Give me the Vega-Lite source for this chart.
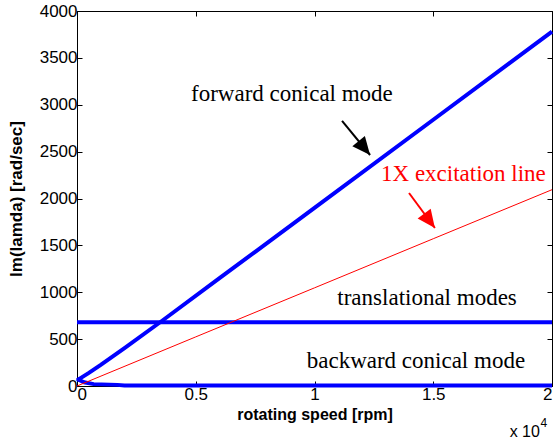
{
  "$schema": "https://vega.github.io/schema/vega-lite/v6.json",
  "width": 475,
  "height": 375,
  "autosize": "none",
  "padding": {"left": 77, "top": 11, "right": 2, "bottom": 56},
  "background": "white",
  "config": {
    "view": {"stroke": "black", "strokeWidth": 1},
    "axis": {
      "grid": false,
      "domainColor": "black",
      "tickColor": "black",
      "tickSize": -5,
      "labelColor": "black",
      "labelFont": "Liberation Sans",
      "labelFontSize": 17,
      "titleFont": "Liberation Sans",
      "titleFontSize": 16,
      "titleFontWeight": "bold",
      "titleColor": "black"
    }
  },
  "datasets": {
    "curves": [
      {"series": "forward", "speed": 0, "im": 60},
      {"series": "forward", "speed": 0.05, "im": 140},
      {"series": "forward", "speed": 0.1, "im": 225},
      {"series": "forward", "speed": 0.2, "im": 405},
      {"series": "forward", "speed": 0.35, "im": 680},
      {"series": "forward", "speed": 0.6, "im": 1150},
      {"series": "forward", "speed": 1.0, "im": 1900},
      {"series": "forward", "speed": 1.5, "im": 2840},
      {"series": "forward", "speed": 2.0, "im": 3780},
      {"series": "translational", "speed": 0, "im": 680},
      {"series": "translational", "speed": 2.0, "im": 680},
      {"series": "backward", "speed": 0, "im": 75},
      {"series": "backward", "speed": 0.03, "im": 40},
      {"series": "backward", "speed": 0.07, "im": 20},
      {"series": "backward", "speed": 0.17, "im": 12},
      {"series": "backward", "speed": 0.2, "im": 5},
      {"series": "backward", "speed": 2.0, "im": 5},
      {"series": "excitation", "speed": 0, "im": 0},
      {"series": "excitation", "speed": 0.5, "im": 524},
      {"series": "excitation", "speed": 1.0, "im": 1047},
      {"series": "excitation", "speed": 1.5, "im": 1571},
      {"series": "excitation", "speed": 2.0, "im": 2094}
    ],
    "labels": [
      {"label": "forward conical mode", "speed": 0.905, "im": 3040, "kind": "black"},
      {"label": "1X excitation line", "speed": 1.627, "im": 2187, "kind": "red"},
      {"label": "translational modes", "speed": 1.474, "im": 864, "kind": "black"},
      {"label": "backward conical mode", "speed": 1.427, "im": 192, "kind": "black"}
    ],
    "arrows": [
      {"arrow": "black", "speed": 1.116, "im": 2827},
      {"arrow": "black", "speed": 1.234, "im": 2464},
      {"arrow": "red", "speed": 1.398, "im": 2059},
      {"arrow": "red", "speed": 1.507, "im": 1685}
    ],
    "heads": [
      {"arrow": "black", "speed": 1.234, "im": 2464},
      {"arrow": "red", "speed": 1.507, "im": 1685}
    ],
    "exponent": [
      {"label": "x 10", "speed": 1.949, "im": -544, "part": "base"},
      {"label": "4", "speed": 1.952, "im": -440, "part": "power"}
    ]
  },
  "layer": [
    {
      "data": {"name": "curves"},
      "transform": [{"filter": "datum.series !== 'excitation'"}],
      "mark": {"type": "line", "color": "#0000ff", "strokeWidth": 4},
      "encoding": {
        "x": {"field": "speed", "type": "quantitative",
              "scale": {"domain": [0, 2], "nice": false, "zero": false},
              "axis": {"values": [0, 0.5, 1, 1.5, 2], "format": "~g", "title": "rotating speed [rpm]", "labelPadding": 5, "titlePadding": 4}},
        "y": {"field": "im", "type": "quantitative",
              "scale": {"domain": [0, 4000], "nice": false},
              "axis": {"values": [0, 500, 1000, 1500, 2000, 2500, 3000, 3500, 4000], "format": "d", "title": "Im(lamda) [rad/sec]", "titleFontSize": 17, "labelPadding": 5, "titlePadding": 14}},
        "detail": {"field": "series"}
      }
    },
    {
      "data": {"name": "curves"},
      "transform": [{"filter": "datum.series === 'excitation'"}],
      "mark": {"type": "line", "color": "#ff0000", "strokeWidth": 1},
      "encoding": {
        "x": {"field": "speed", "type": "quantitative", "axis": {"orient": "top", "labels": false, "title": null, "values": [0, 0.5, 1, 1.5, 2]}},
        "y": {"field": "im", "type": "quantitative", "axis": {"orient": "right", "labels": false, "title": null, "values": [0, 500, 1000, 1500, 2000, 2500, 3000, 3500, 4000]}}
      }
    },
    {
      "data": {"name": "labels"},
      "transform": [{"filter": "datum.kind === 'black'"}],
      "mark": {"type": "text", "font": "Liberation Serif", "fontSize": 23, "color": "black", "baseline": "alphabetic", "align": "center"},
      "encoding": {
        "x": {"field": "speed", "type": "quantitative", "axis": null},
        "y": {"field": "im", "type": "quantitative", "axis": null},
        "text": {"field": "label"}
      }
    },
    {
      "data": {"name": "labels"},
      "transform": [{"filter": "datum.kind === 'red'"}],
      "mark": {"type": "text", "font": "Liberation Serif", "fontSize": 23, "color": "#ff0000", "baseline": "alphabetic", "align": "center"},
      "encoding": {
        "x": {"field": "speed", "type": "quantitative", "axis": null},
        "y": {"field": "im", "type": "quantitative", "axis": null},
        "text": {"field": "label"}
      }
    },
    {
      "data": {"name": "arrows"},
      "transform": [{"filter": "datum.arrow === 'black'"}],
      "mark": {"type": "line", "color": "black", "strokeWidth": 2},
      "encoding": {
        "x": {"field": "speed", "type": "quantitative", "axis": null},
        "y": {"field": "im", "type": "quantitative", "axis": null}
      }
    },
    {
      "data": {"name": "arrows"},
      "transform": [{"filter": "datum.arrow === 'red'"}],
      "mark": {"type": "line", "color": "#ff0000", "strokeWidth": 2},
      "encoding": {
        "x": {"field": "speed", "type": "quantitative", "axis": null},
        "y": {"field": "im", "type": "quantitative", "axis": null}
      }
    },
    {
      "data": {"name": "heads"},
      "transform": [{"filter": "datum.arrow === 'black'"}],
      "mark": {"type": "point", "shape": "M0,0L-0.45,1L0.45,1Z", "filled": true, "color": "black", "opacity": 1, "size": 1300, "angle": 140.5},
      "encoding": {
        "x": {"field": "speed", "type": "quantitative", "axis": null},
        "y": {"field": "im", "type": "quantitative", "axis": null}
      }
    },
    {
      "data": {"name": "heads"},
      "transform": [{"filter": "datum.arrow === 'red'"}],
      "mark": {"type": "point", "shape": "M0,0L-0.45,1L0.45,1Z", "filled": true, "color": "#ff0000", "opacity": 1, "size": 1300, "angle": 143.4},
      "encoding": {
        "x": {"field": "speed", "type": "quantitative", "axis": null},
        "y": {"field": "im", "type": "quantitative", "axis": null}
      }
    },
    {
      "data": {"name": "exponent"},
      "transform": [{"filter": "datum.part === 'base'"}],
      "mark": {"type": "text", "font": "Liberation Sans", "fontSize": 16, "color": "black", "align": "right", "baseline": "alphabetic", "clip": false},
      "encoding": {
        "x": {"field": "speed", "type": "quantitative", "axis": null},
        "y": {"field": "im", "type": "quantitative", "axis": null},
        "text": {"field": "label"}
      }
    },
    {
      "data": {"name": "exponent"},
      "transform": [{"filter": "datum.part === 'power'"}],
      "mark": {"type": "text", "font": "Liberation Sans", "fontSize": 12, "color": "black", "align": "left", "baseline": "alphabetic", "clip": false},
      "encoding": {
        "x": {"field": "speed", "type": "quantitative", "axis": null},
        "y": {"field": "im", "type": "quantitative", "axis": null},
        "text": {"field": "label"}
      }
    }
  ],
  "resolve": {"axis": {"x": "independent", "y": "independent"}}
}
